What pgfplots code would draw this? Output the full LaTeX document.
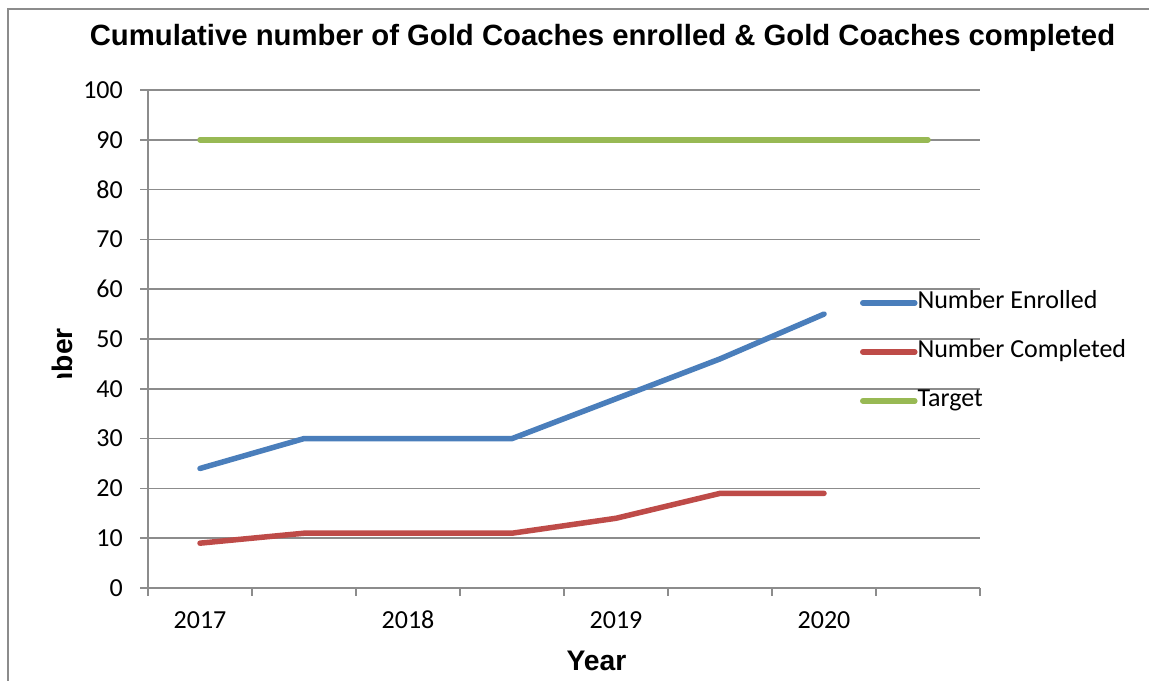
\documentclass[border=0pt]{standalone}
\usepackage{fontspec}
\setmainfont{Liberation Sans}
\newfontfamily\calib{Carlito}
\usepackage{pgfplots}
\pgfplotsset{compat=1.18}
\definecolor{cblue}{HTML}{4A7EBB}
\definecolor{cred}{HTML}{BE4B48}
\definecolor{cgreen}{HTML}{98B954}
\definecolor{gridgray}{HTML}{8C8C8C}
\begin{document}
\begin{tikzpicture}[x=1bp,y=1bp]
\path[use as bounding box] (0,0) rectangle (1149,681);
\clip (0,0) rectangle (1149,681);
\draw[gridgray, line width=2bp] (8,-5) -- (8,672) -- (1160,672);
\node[font=\fontsize{29.4}{32}\selectfont\bfseries, anchor=base, inner sep=0pt] at (602.5,635) {Cumulative number of Gold Coaches enrolled \& Gold Coaches completed};
\node[font=\fontsize{28.4}{32}\selectfont\bfseries, anchor=base, inner sep=0pt] at (596.5,10.3) {Year};
\begin{scope}
\clip (30,303) rectangle (110,366);
\node[rotate=90, anchor=base east, inner sep=0pt, font=\fontsize{28.4}{32}\selectfont\bfseries] at (72,353) {Number};
\end{scope}
\begin{axis}[
  at={(148bp,93bp)}, anchor=south west, scale only axis,
  width=832bp, height=498bp,
  xmin=-0.5, xmax=7.5, ymin=0, ymax=100,
  xtick={-0.5,0.5,...,7.5}, xticklabels={},
  extra x ticks={0,2,4,6}, extra x tick labels={2017,2018,2019,2020},
  extra x tick style={major tick length=0pt, grid=none},
  ytick={0,10,...,100},
  ymajorgrids, major grid style={gridgray, line width=1.5bp},
  axis x line*=bottom, axis y line*=left,
  axis line style={gridgray, line width=1.5bp, -},
  tick style={gridgray, line width=1.5bp},
  tick align=outside, major tick length=8bp,
  /pgf/number format/assume math mode=true,
  ticklabel style={font=\calib\fontsize{26.1}{28}\selectfont, inner sep=0pt},
  yticklabel style={xshift=-17bp},
  xticklabel style={anchor=north, text height=17bp, text depth=0pt, yshift=-23.7bp},
  legend style={at={(0.8558,0.474)}, anchor=west, draw=none, fill=none,
    inner sep=0pt, outer sep=0pt, row sep=25bp, column sep=0bp,
    font=\calib\fontsize{26.1}{28}\selectfont,
    nodes={inner sep=0pt, text height=18bp, text depth=6bp}},
  legend cell align=left,
  legend image code/.code={\path (0,0) -- (52bp,0);
    \draw[#1, line width=5.5bp, line cap=round] (2.75bp,0.5bp) -- (49.25bp,0.5bp);},
]
\addplot[cblue, line width=5.5bp, line cap=round, line join=round]
  coordinates {(0,24) (1,30) (2,30) (3,30) (4,38) (5,46) (6,55)};
\addlegendentry{Number Enrolled}
\addplot[cred, line width=5.5bp, line cap=round, line join=round]
  coordinates {(0,9) (1,11) (2,11) (3,11) (4,14) (5,19) (6,19)};
\addlegendentry{Number Completed}
\addplot[cgreen, line width=5.5bp, line cap=round, line join=round]
  coordinates {(0,90) (1,90) (2,90) (3,90) (4,90) (5,90) (6,90) (7,90)};
\addlegendentry{Target}
\end{axis}
\end{tikzpicture}
\end{document}
